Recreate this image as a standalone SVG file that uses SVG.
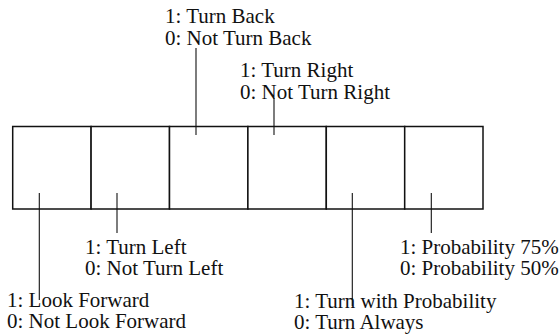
<svg xmlns="http://www.w3.org/2000/svg" width="559" height="334" viewBox="0 0 559 334">
<style>
text{font-family:"Liberation Serif","Times New Roman",serif;font-size:21px;fill:#111}
.box{fill:#fff;stroke:#111;stroke-width:1.5}
.ln{stroke:#111;stroke-width:1.1;fill:none}
</style>
<rect width="559" height="334" fill="#fff"/>
<g id="cells">
<g id="cell1"><rect class="box" x="12.7" y="126.5" width="78.4" height="82.5"/></g>
<g id="cell2"><rect class="box" x="91.1" y="126.5" width="78.4" height="82.5"/></g>
<g id="cell3"><rect class="box" x="169.5" y="126.5" width="78.4" height="82.5"/></g>
<g id="cell4"><rect class="box" x="247.9" y="126.5" width="78.4" height="82.5"/></g>
<g id="cell5"><rect class="box" x="326.3" y="126.5" width="78.4" height="82.5"/></g>
<g id="cell6"><rect class="box" x="404.7" y="126.5" width="78.3" height="82.5"/></g>
</g>
<g id="connectors">
<line class="ln" x1="196" y1="48" x2="196" y2="135"/>
<line class="ln" x1="274" y1="98" x2="274" y2="135"/>
<line class="ln" x1="39.3" y1="193" x2="39.3" y2="300"/>
<line class="ln" x1="117" y1="193" x2="117" y2="233"/>
<line class="ln" x1="352.3" y1="193" x2="352.3" y2="306"/>
<line class="ln" x1="431.3" y1="193" x2="431.3" y2="233"/>
</g>
<g id="label-back"><text x="165" y="23">1: Turn Back</text><text x="165" y="45">0: Not Turn Back</text></g>
<g id="label-right"><text x="240" y="77">1: Turn Right</text><text x="240" y="99">0: Not Turn Right</text></g>
<g id="label-left"><text x="85" y="254">1: Turn Left</text><text x="85" y="275">0: Not Turn Left</text></g>
<g id="label-prob"><text x="400" y="254">1: Probability 75%</text><text x="400" y="275">0: Probability 50%</text></g>
<g id="label-forward"><text x="7" y="307">1: Look Forward</text><text x="7" y="328">0: Not Look Forward</text></g>
<g id="label-turnprob"><text x="294" y="308">1: Turn with Probability</text><text x="294" y="329">0: Turn Always</text></g>
</svg>
